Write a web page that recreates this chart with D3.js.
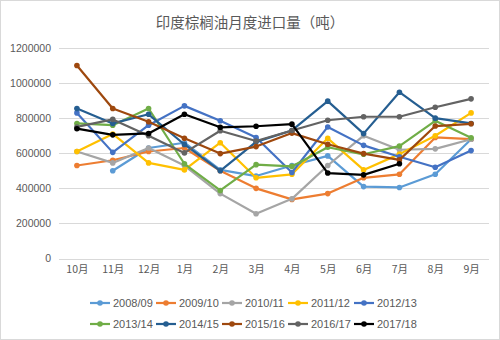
<!DOCTYPE html>
<html>
<head>
<meta charset="utf-8">
<script src="https://cdn.jsdelivr.net/npm/d3@7/dist/d3.min.js"></script>
<style>
  html, body { margin: 0; padding: 0; background: #fff; }
  svg { display: block; font-family: "Liberation Sans", Arial, "Noto Sans CJK SC", sans-serif; }
</style>
</head>
<body>
<svg id="chart" width="500" height="340"></svg>
<script>
// Monthly palm oil imports of India (tonnes), marketing years Oct–Sep
const months = ["10月", "11月", "12月", "1月", "2月", "3月", "4月", "5月", "6月", "7月", "8月", "9月"];
const seasons = ["2008/09", "2009/10", "2010/11", "2011/12", "2012/13",
                 "2013/14", "2014/15", "2015/16", "2016/17", "2017/18"];
const yTicks = [0, 200000, 400000, 600000, 800000, 1000000, 1200000];

const v0809 = [null, 500000, 630000, 660000, 505000, 470000, 530000, 585000, 410000, 405000, 480000, 680000];
const v0910 = [530000, 560000, 610000, 630000, 500000, 400000, 337000, 370000, 460000, 480000, 690000, 680000];
const v1011 = [610000, 545000, 630000, 530000, 370000, 255000, 340000, 530000, 700000, 620000, 625000, 680000];
const v1112 = [610000, 710000, 545000, 505000, 660000, 460000, 480000, 685000, 505000, 595000, 700000, 830000];
const v1213 = [830000, 605000, 760000, 870000, 785000, 690000, 490000, 750000, 645000, 580000, 520000, 615000];
const v1314 = [770000, 760000, 855000, 540000, 388000, 535000, 525000, 634000, 594000, 641000, 785000, 688000];
const v1415 = [855000, 770000, 822000, 650000, 500000, 665000, 730000, 897000, 712000, 948000, 800000, 770000];
const v1516 = [1100000, 855000, 780000, 685000, 598000, 638000, 715000, 651000, 598000, 562000, 755000, 768000];
const v1617 = [750000, 793000, 700000, 602000, 728000, 670000, 730000, 788000, 808000, 808000, 862000, 910000];
const v1718 = [740000, 705000, 713000, 822000, 748000, 754000, 766000, 487000, 477000, 540000, null, null];

const colors = ["#5B9BD5", "#ED7D31", "#A5A5A5", "#FFC000", "#4472C4",
                "#70AD47", "#255E91", "#9E480E", "#636363", "#000000"];

const series = [v0809, v0910, v1011, v1112, v1213, v1314, v1415, v1516, v1617, v1718]
  .map((values, i) => ({ name: seasons[i], values, color: colors[i] }));

const svg = d3.select("#chart");
const W = 500, H = 340;
const textColor = "#595959";

// outer frame
svg.append("rect")
  .attr("x", 0.5).attr("y", 0.5)
  .attr("width", W - 1).attr("height", H - 1)
  .attr("fill", "#fff").attr("stroke", "#d9d9d9");

// title
svg.append("text")
  .attr("x", 250).attr("y", 28)
  .attr("text-anchor", "middle")
  .attr("font-size", 14.5)
  .attr("fill", textColor)
  .attr("font-family", "'Noto Sans CJK SC', sans-serif")
  .text("印度棕榈油月度进口量（吨）");

const x = d3.scalePoint().domain(months).range([59, 489]).padding(0.5);
const y = d3.scaleLinear().domain([0, 1200000]).range([258.5, 48]);

// horizontal gridlines
svg.append("g")
  .selectAll("line")
  .data(yTicks)
  .join("line")
  .attr("x1", 59).attr("x2", 489)
  .attr("y1", d => Math.round(y(d)) + 0.5)
  .attr("y2", d => Math.round(y(d)) + 0.5)
  .attr("stroke", "#d9d9d9").attr("stroke-width", 1);

// y axis labels
const yAxis = svg.append("g")
  .attr("transform", "translate(51,0)")
  .call(d3.axisLeft(y).tickValues(yTicks).tickSize(0).tickPadding(0).tickFormat(d3.format("d")));
yAxis.select(".domain").remove();
yAxis.selectAll("text")
  .attr("fill", textColor).attr("font-size", 10.5);

// x axis labels
const xAxis = svg.append("g")
  .attr("transform", "translate(0,266)")
  .call(d3.axisBottom(x).tickSize(0).tickPadding(0));
xAxis.select(".domain").remove();
xAxis.selectAll("text")
  .attr("fill", textColor).attr("font-size", 10.5)
  .attr("dy", "0.71em")
  .attr("font-family", "'Noto Sans CJK SC', sans-serif");

// lines and markers
const line = d3.line()
  .defined(d => d != null)
  .x((d, i) => x(months[i]))
  .y(d => y(d));

const groups = svg.append("g")
  .selectAll("g")
  .data(series)
  .join("g");

groups.append("path")
  .attr("d", s => line(s.values))
  .attr("fill", "none")
  .attr("stroke", s => s.color)
  .attr("stroke-width", 2.2)
  .attr("stroke-linejoin", "round");

groups.each(function (s) {
  d3.select(this).selectAll("circle")
    .data(s.values.map((v, i) => ({ v, m: months[i] })).filter(d => d.v != null))
    .join("circle")
    .attr("cx", d => x(d.m))
    .attr("cy", d => y(d.v))
    .attr("r", 2.8)
    .attr("fill", s.color);
});

// legend, two rows of five
const legend = svg.append("g")
  .selectAll("g")
  .data(series)
  .join("g")
  .attr("transform", (s, i) => `translate(${90 + (i % 5) * 66},${i < 5 ? 303 : 324})`);

legend.append("line")
  .attr("x1", 0).attr("x2", 20)
  .attr("stroke", s => s.color).attr("stroke-width", 2.2);
legend.append("circle")
  .attr("cx", 10).attr("r", 2.8)
  .attr("fill", s => s.color);
legend.append("text")
  .attr("x", 23).attr("dy", "0.35em")
  .attr("font-size", 11)
  .attr("fill", textColor)
  .text(s => s.name);
</script>
</body>
</html>
